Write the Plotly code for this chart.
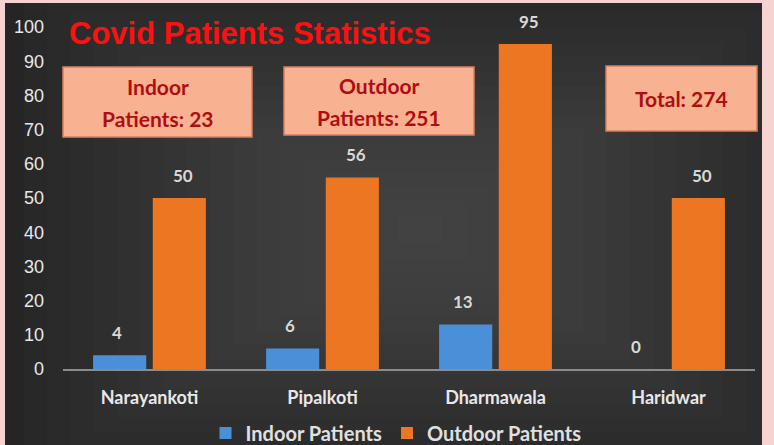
import plotly.graph_objects as go

categories = ["Narayankoti", "Pipalkoti", "Dharmawala", "Haridwar"]
indoor = [4, 6, 13, 0]
outdoor = [50, 56, 95, 50]
series_names = ["Indoor Patients", "Outdoor Patients"]
title_text = "Covid Patients Statistics"
box_lines = [["Indoor", "Patients: 23"], ["Outdoor", "Patients: 251"], ["Total: 274"]]
y_ticks = [0, 10, 20, 30, 40, 50, 60, 70, 80, 90, 100]

W, H = 774, 445
L, R, T, B = 63, 19, 27, 76
pw, ph = W - L - R, H - T - B

def px(x):
    return (x - L) / pw

def py(y):
    return (H - B - y) / ph

fig = go.Figure()
fig.add_trace(go.Bar(x=categories, y=indoor, name=series_names[0],
                     marker=dict(color="#4a90d8", line=dict(width=0))))
fig.add_trace(go.Bar(x=categories, y=outdoor, name=series_names[1],
                     marker=dict(color="#ec7622", line=dict(width=0))))

shapes = []
shapes.append(dict(type="rect", xref="paper", yref="paper", layer="below",
                   x0=px(5), x1=px(762), y0=py(445), y1=py(3),
                   fillcolor="#222222", line=dict(width=0)))
cx, cy = 420, 230
steps = 18
for i in range(steps):
    f = 1 - i / steps
    hw, hh = 420 * f, 260 * f
    shapes.append(dict(type="rect", xref="paper", yref="paper", layer="below",
                       x0=px(max(5, cx - hw)), x1=px(min(762, cx + hw)),
                       y0=py(min(445, cy + hh)), y1=py(max(3, cy - hh)),
                       fillcolor="#5c5c5c", opacity=0.05, line=dict(width=0)))

boxes = [(63, 252, 67, 137), (284, 474, 67, 135), (606, 757, 66, 131)]
for (x0, x1, y0, y1) in boxes:
    shapes.append(dict(type="rect", xref="paper", yref="paper",
                       x0=px(x0), x1=px(x1), y0=py(y1), y1=py(y0),
                       fillcolor="#f8b291", line=dict(color="#d8805c", width=1.5)))

annotations = []
annotations.append(dict(text="<b>" + title_text + "</b>", xref="paper", yref="paper",
                        x=px(67), y=py(33), xanchor="left", yanchor="middle",
                        showarrow=False, font=dict(family="Liberation Sans, Arial", size=31, color="#ff1010")))
for (x0, x1, y0, y1), lines in zip(boxes, box_lines):
    mid = (y0 + y1) / 2
    n = len(lines)
    for k, t in enumerate(lines):
        yc = mid + (k - (n - 1) / 2) * 32
        annotations.append(dict(text="<b>" + t + "</b>", xref="paper", yref="paper",
                                x=px((x0 + x1) / 2), y=py(yc),
                                xanchor="center", yanchor="middle", showarrow=False,
                                font=dict(family="Lato, Open Sans", size=21, color="#b00d12")))
for cat, v in zip(categories, indoor):
    annotations.append(dict(text="<b>%d</b>" % v, x=cat, y=v, xref="x", yref="y",
                            xshift=-33, yshift=23, yanchor="middle", showarrow=False,
                            font=dict(family="Lato", size=17, color="#d8d8d8")))
for cat, v in zip(categories, outdoor):
    annotations.append(dict(text="<b>%d</b>" % v, x=cat, y=v, xref="x", yref="y",
                            xshift=33, yshift=23, yanchor="middle", showarrow=False,
                            font=dict(family="Lato", size=17, color="#d8d8d8")))

fig.update_layout(
    width=W, height=H,
    margin=dict(l=L, r=R, t=T, b=B, autoexpand=False),
    paper_bgcolor="#f6d3d0",
    plot_bgcolor="rgba(0,0,0,0)",
    barmode="group", bargap=0.31, bargroupgap=0.11,
    shapes=shapes, annotations=annotations,
    showlegend=True,
    legend=dict(orientation="h", x=px(396), y=py(433), xanchor="center", yanchor="middle",
                font=dict(family="Lato", size=20, color="#e0e0e0", weight="bold"),
                bgcolor="rgba(0,0,0,0)", itemwidth=30, traceorder="normal"),
    xaxis=dict(showgrid=False, showline=True, linecolor="#8c8c8c", linewidth=1.5,
               tickfont=dict(family="Lato", size=18, color="#e8e8e8", weight="bold"),
               ticks="", ticklabelstandoff=12, zeroline=False),
    yaxis=dict(range=[0, 100], tickvals=y_ticks, showgrid=False, zeroline=False,
               showline=False, ticks="", ticklabelstandoff=18,
               tickfont=dict(family="Liberation Sans", size=18, color="#e8e8e8")),
)

fig.write_html("out.html", config={"displayModeBar": False},
               post_script="document.body.style.margin='0';document.body.style.overflow='hidden';")
